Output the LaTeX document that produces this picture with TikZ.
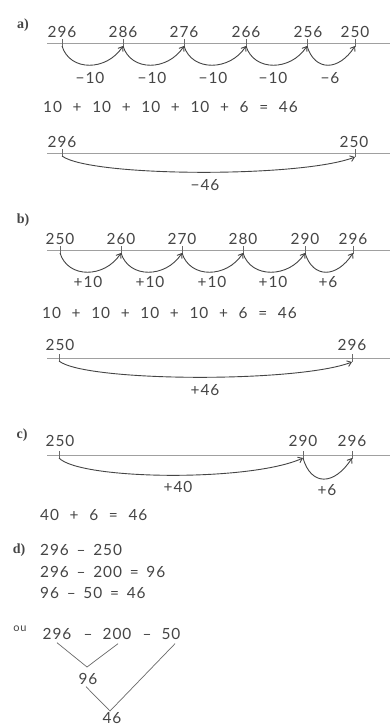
\documentclass[tikz,border=0pt]{standalone}
\usepackage{fontspec}
\setmainfont[LetterSpace=6,WordSpace=1.6]{Lato}
\newfontfamily\labfont{Liberation Serif}
\newfontfamily\eqfont[LetterSpace=6,WordSpace=2.2]{Lato}
\usetikzlibrary{arrows.meta,calc}
\definecolor{ink}{HTML}{454545}
\definecolor{rule}{HTML}{A0A0A0}
\begin{document}
\begin{tikzpicture}[x=1pt,y=-1pt,
  txt/.style={inner sep=0pt,text=ink,text height=11pt,text depth=0pt,font=\fontsize{15.4}{18}\selectfont},
  eqn/.style={txt,anchor=west,font=\eqfont\fontsize{15.4}{18}\selectfont},
  lab/.style={inner sep=0pt,text=ink,font=\labfont\bfseries\fontsize{14}{16}\selectfont},
  numline/.style={draw=rule,line width=0.6pt},
  tickmark/.style={draw=ink!80,line width=0.6pt},
  jump/.style={draw=ink,line width=0.9pt,-{Straight Barb[length=4pt,width=6pt]}},
  tree/.style={draw=ink!80,line width=0.7pt}]
\useasboundingbox[fill=white] (0,0) rectangle (390,726);

% ---------- a) ----------
\node[lab] (la) at (23,25) {a)};
\coordinate (a1s) at (47,43); \coordinate (a1e) at (390,43);
\draw[numline] (a1s) -- (a1e);
\foreach \n/\x in {0/62,1/123,2/184,3/246,4/307,5/355}{
  \coordinate (at\n) at (\x,46);
  \draw[tickmark] (\x,39) -- (\x,47);
}
\node[txt] (a0) at (62,32) {296};
\node[txt] (a1) at (123,32) {286};
\node[txt] (a2) at (184,32) {276};
\node[txt] (a3) at (246,32) {266};
\node[txt] (a4) at (308,32) {256};
\node[txt] (a5) at (355,32) {250};
\foreach \i/\j in {0/1,1/2,2/3,3/4,4/5}{
  \draw[jump] (at\i) .. controls ($(at\i)+(8,26)$) and ($(at\j)+(-16,25)$) .. (at\j);
}
\node[txt] (am1) at (90,78) {−10};
\node[txt] (am2) at (152,78) {−10};
\node[txt] (am3) at (213,78) {−10};
\node[txt] (am4) at (273,78) {−10};
\node[txt] (am5) at (330,78) {−6};
\node[eqn] (aeq) at (43,107) {10 + 10 + 10 + 10 + 6 = 46};
\coordinate (a2s) at (47,153); \coordinate (a2e) at (390,153);
\draw[numline] (a2s) -- (a2e);
\draw[tickmark] (62,149) -- (62,157);
\draw[tickmark] (355,149) -- (355,157);
\node[txt] (ab0) at (62,142) {296};
\node[txt] (ab1) at (354,142) {250};
\coordinate (ab0t) at (62,156); \coordinate (ab1t) at (355,157);
\draw[jump] (ab0t) .. controls (90,177) and (300,178) .. (ab1t);
\node[txt] (am46) at (205,185) {−46};

% ---------- b) ----------
\node[lab] (lb) at (23,220) {b)};
\coordinate (b1s) at (47,250); \coordinate (b1e) at (390,250);
\draw[numline] (b1s) -- (b1e);
\foreach \n/\x in {0/60,1/121,2/182,3/243,4/305,5/353}{
  \coordinate (bt\n) at (\x,253);
  \draw[tickmark] (\x,246) -- (\x,254);
}
\node[txt] (b0) at (60,239) {250};
\node[txt] (b1) at (121,239) {260};
\node[txt] (b2) at (182,239) {270};
\node[txt] (b3) at (243,239) {280};
\node[txt] (b4) at (305,239) {290};
\node[txt] (b5) at (353,239) {296};
\foreach \i/\j in {0/1,1/2,2/3,3/4,4/5}{
  \draw[jump] (bt\i) .. controls ($(bt\i)+(8,26)$) and ($(bt\j)+(-16,25)$) .. (bt\j);
}
\node[txt] (bp1) at (88,282) {+10};
\node[txt] (bp2) at (150,282) {+10};
\node[txt] (bp3) at (212,282) {+10};
\node[txt] (bp4) at (273,282) {+10};
\node[txt] (bp5) at (328,282) {+6};
\node[eqn] (beq) at (42,313) {10 + 10 + 10 + 10 + 6 = 46};
\coordinate (b2s) at (47,358); \coordinate (b2e) at (390,358);
\draw[numline] (b2s) -- (b2e);
\draw[tickmark] (59,354) -- (59,362);
\draw[tickmark] (352,354) -- (352,362);
\node[txt] (bb0) at (60,345) {250};
\node[txt] (bb1) at (352,345) {296};
\coordinate (bb0t) at (59,361); \coordinate (bb1t) at (352,362);
\draw[jump] (bb0t) .. controls (85,382) and (297,383) .. (bb1t);
\node[txt] (bp46) at (205,390) {+46};

% ---------- c) ----------
\node[lab] (lc) at (22,435) {c)};
\coordinate (c1s) at (47,455); \coordinate (c1e) at (390,455);
\draw[numline] (c1s) -- (c1e);
\foreach \n/\x in {0/59,1/303,2/352}{
  \coordinate (ct\n) at (\x,458);
  \draw[tickmark] (\x,451) -- (\x,459);
}
\node[txt] (c0) at (60,441) {250};
\node[txt] (c1) at (303,441) {290};
\node[txt] (c2) at (352,441) {296};
\draw[jump] (ct0) .. controls (80,480) and (250,482) .. (ct1);
\draw[jump] (ct1) .. controls (311,486) and (334,486) .. (ct2);
\node[txt] (cp40) at (178,487) {+40};
\node[txt] (cp6) at (327,490) {+6};
\node[eqn] (ceq) at (40,515) {40 + 6 = 46};

% ---------- d) ----------
\node[lab] (ld) at (19,550) {d)};
\node[txt,anchor=west] (d1) at (40,550) {296 – 250};
\node[txt,anchor=west] (d2) at (40,572) {296 – 200 = 96};
\node[txt,anchor=west] (d3) at (40,593) {96 – 50 = 46};
\node[inner sep=0pt,text=ink,font=\fontsize{11}{13}\selectfont] (ou) at (20,629) {ou};
\node[txt] (t296) at (57,634) {296};
\node[txt] (tm1) at (88,634) {–};
\node[txt] (t200) at (117,634) {200};
\node[txt] (tm2) at (147,634) {–};
\node[txt] (t50) at (171,634) {50};
\node[txt] (t96) at (88,679) {96};
\node[txt] (t46) at (112,718) {46};
\coordinate (v1) at (87,667);
\coordinate (v2) at (110,711);
\draw[tree] ($(t296.south)+(0,3)$) -- (v1) -- ($(t200.south)+(1,4)$);
\draw[tree] ($(t96.south)+(-2,2)$) -- (v2) -- ($(t50.south)+(4,4)$);
\end{tikzpicture}
\end{document}
